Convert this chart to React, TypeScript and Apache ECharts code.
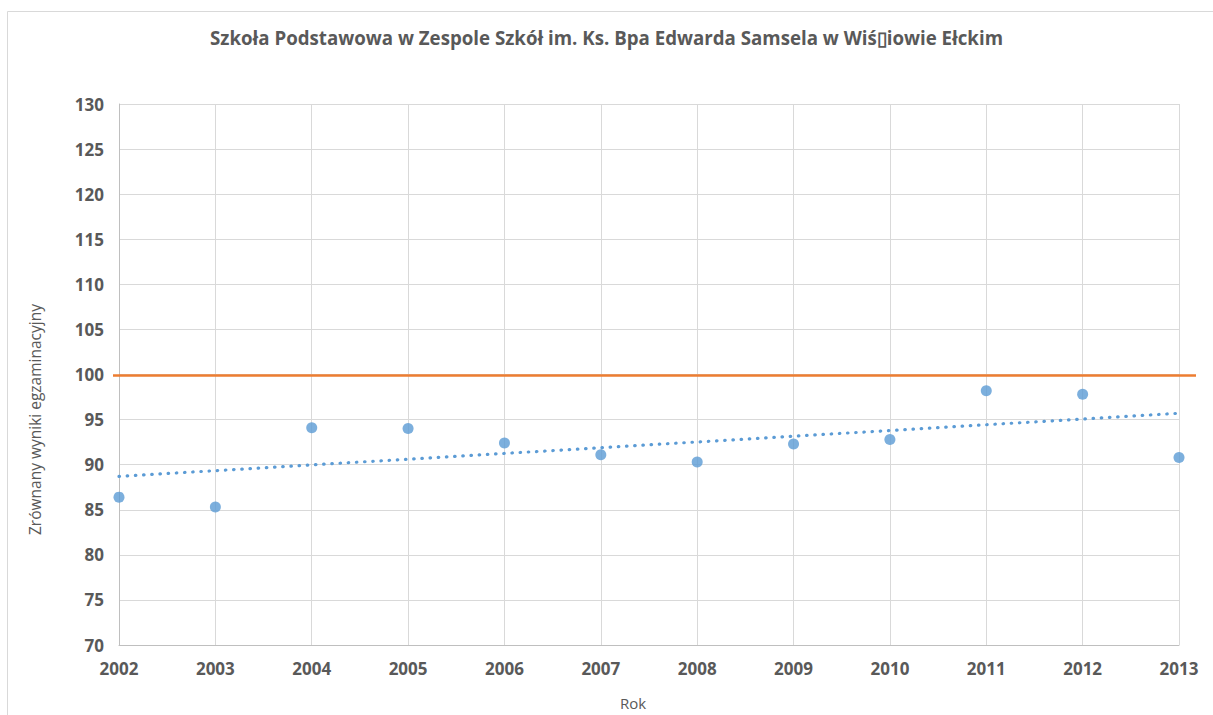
import React, { useEffect, useRef } from "react";
import * as echarts from "echarts";

const years = [2002, 2003, 2004, 2005, 2006, 2007, 2008, 2009, 2010, 2011, 2012, 2013];
const scores = [86.4, 85.3, 94.1, 94.0, 92.4, 91.1, 90.3, 92.3, 92.8, 98.2, 97.8, 90.8];
const trendYears = [2002, 2013];
const trendValues = [88.7, 95.7];
const refPos = [0, 1];
const refValues = [100, 100];

const titleText = "Szkoła Podstawowa w Zespole Szkół im. Ks. Bpa Edwarda Samsela w Wiś\u25AFiowie Ełckim";
const yTitle = "Zrównany wyniki egzaminacyjny";
const xTitle = "Rok";

const FONT = "'Open Sans', 'Noto Sans', sans-serif";
const TXT = "#595959";

export default function App() {
  const ref = useRef<HTMLDivElement>(null);
  useEffect(() => {
    if (!ref.current) return;
    const chart = echarts.init(ref.current, null, { renderer: "svg" });
    chart.setOption({
      animation: false,
      backgroundColor: "#ffffff",
      textStyle: { fontFamily: FONT },
      title: {
        text: titleText,
        left: "center",
        top: 23,
        textStyle: { fontFamily: FONT, fontSize: 18.7, fontWeight: "bold", color: TXT },
      },
      graphic: [
        {
          type: "rect",
          shape: { x: 7.5, y: 11.5, width: 1220, height: 720 },
          style: { fill: "none", stroke: "#d9d9d9", lineWidth: 1 },
          silent: true,
          z: -1,
        },
      ],
      grid: [
        { left: 119, right: 34, top: 104, bottom: 68, containLabel: false },
        { left: 113, right: 17, top: 104, bottom: 68, containLabel: false },
      ],
      xAxis: [
        {
          type: "value",
          gridIndex: 0,
          min: 2002,
          max: 2013,
          interval: 1,
          name: xTitle,
          nameLocation: "middle",
          nameGap: 50,
          nameTextStyle: { fontFamily: FONT, fontSize: 15, color: TXT, padding: [0, 32, 0, 0] },
          axisLine: { show: true, lineStyle: { color: "#bfbfbf", width: 1 } },
          axisTick: { show: false },
          axisLabel: {
            fontFamily: FONT,
            fontSize: 17,
            fontWeight: "bold",
            color: TXT,
            margin: 15,
            formatter: (v: number) => String(v),
          },
          splitLine: { show: true, lineStyle: { color: "#d9d9d9", width: 1 } },
        },
        { type: "value", gridIndex: 1, min: 0, max: 1, show: false },
      ],
      yAxis: [
        {
          type: "value",
          gridIndex: 0,
          min: 70,
          max: 130,
          interval: 5,
          name: yTitle,
          nameLocation: "middle",
          nameGap: 76,
          nameTextStyle: { fontFamily: FONT, fontSize: 15.5, color: TXT, padding: [0, 0, 0, -90] },
          axisLine: { show: true, lineStyle: { color: "#bfbfbf", width: 1 } },
          axisTick: { show: false },
          axisLabel: { fontFamily: FONT, fontSize: 17, fontWeight: "bold", color: TXT, margin: 15 },
          splitLine: { show: true, lineStyle: { color: "#d9d9d9", width: 1 } },
        },
        { type: "value", gridIndex: 1, min: 70, max: 130, show: false },
      ],
      series: [
        {
          type: "line",
          xAxisIndex: 1,
          yAxisIndex: 1,
          data: refPos.map((x, i) => [x, refValues[i]]),
          symbol: "none",
          lineStyle: { color: "#ED7D31", width: 2.5 },
          z: 2,
        },
        {
          type: "line",
          data: trendYears.map((x, i) => [x, trendValues[i]]),
          symbol: "none",
          lineStyle: { color: "#5B9BD5", width: 3.2, type: [0.5, 7.7], cap: "round" },
          z: 3,
        },
        {
          type: "scatter",
          data: years.map((x, i) => [x, scores[i]]),
          symbol: "circle",
          symbolSize: 11,
          clip: false,
          itemStyle: { color: "#5B9BD5" },
          z: 4,
        },
      ],
    });
    return () => chart.dispose();
  }, []);
  return (
    <div
      ref={ref}
      style={{ position: "fixed", left: 0, top: 0, width: 1213, height: 715 }}
    />
  );
}
